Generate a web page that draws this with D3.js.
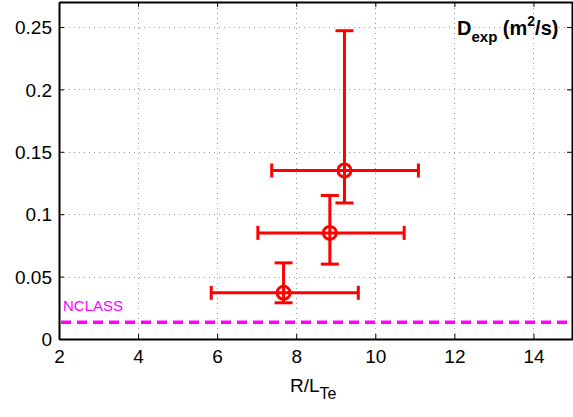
<!DOCTYPE html>
<html>
<head>
<meta charset="utf-8">
<script src="https://cdn.jsdelivr.net/npm/d3@7"></script>
<style>
  body { margin: 0; background: #fff; }
  text { font-family: "Liberation Sans", Arial, sans-serif; }
</style>
</head>
<body>
<div id="chart"></div>
<script>
const rlte = [7.68, 8.85, 9.22]
const rlteLo = [5.85, 7.03, 7.38]
const rlteHi = [9.57, 10.73, 11.09]
const dexp = [0.037, 0.085, 0.135]
const dexpLo = [0.029, 0.060, 0.109]
const dexpHi = [0.061, 0.115, 0.247]
const nclass = 0.0135
const xTicks = [2, 4, 6, 8, 10, 12, 14]
const yTicks = [0, 0.05, 0.1, 0.15, 0.2, 0.25]

const W = 573, H = 417
const MARGIN = { TOP: 2, BOTTOM: 78, LEFT: 59, RIGHT: 0 }

const svg = d3.select("#chart").append("svg")
  .attr("width", W).attr("height", H)

const x = d3.scaleLinear().domain([2, 15]).range([MARGIN.LEFT, W - MARGIN.RIGHT])
const y = d3.scaleLinear().domain([0, 0.27]).range([H - MARGIN.BOTTOM, MARGIN.TOP])

const data = rlte.map((v, i) => ({ x: v, xl: rlteLo[i], xh: rlteHi[i], y: dexp[i], yl: dexpLo[i], yh: dexpHi[i] }))

// grid
const grid = svg.append("g")
  .attr("stroke", "#999").attr("stroke-width", 1).attr("stroke-dasharray", "1,4")
grid.selectAll(".gx").data(xTicks.slice(1)).enter().append("line")
  .attr("x1", d => Math.round(x(d)) + 0.5).attr("x2", d => Math.round(x(d)) + 0.5)
  .attr("y1", y(0)).attr("y2", y(0.27))
grid.selectAll(".gy").data(yTicks.slice(1)).enter().append("line")
  .attr("y1", d => Math.round(y(d)) + 0.5).attr("y2", d => Math.round(y(d)) + 0.5)
  .attr("x1", x(2)).attr("x2", x(15))

// axes
const fmt = d => d === 0 ? "0" : String(d)
const xAxis = svg.append("g")
  .attr("transform", `translate(0, ${y(0)})`)
  .call(d3.axisBottom(x).tickValues(xTicks).tickSizeInner(-5).tickSizeOuter(0).tickPadding(11).tickFormat(fmt))
const yAxis = svg.append("g")
  .attr("transform", `translate(${x(2)}, 0)`)
  .call(d3.axisLeft(y).tickValues(yTicks).tickSizeInner(-5).tickSizeOuter(0).tickPadding(7).tickFormat(fmt))
svg.append("g")
  .attr("transform", `translate(0, ${y(0.27)})`)
  .call(d3.axisTop(x).tickValues(xTicks).tickSizeInner(-5).tickSizeOuter(0).tickFormat(""))
svg.append("g")
  .attr("transform", `translate(${x(15) - 1}, 0)`)
  .call(d3.axisRight(y).tickValues(yTicks).tickSizeInner(-5).tickSizeOuter(0).tickFormat(""))

svg.selectAll(".domain").attr("stroke", "#000").attr("stroke-width", 2)
svg.selectAll(".tick line").attr("stroke", "#000").attr("stroke-width", 1)
xAxis.selectAll("text").attr("font-size", 19).attr("fill", "#000")
yAxis.selectAll("text").attr("font-size", 19).attr("fill", "#000").attr("dy", "0.35em")

// NCLASS line
svg.append("line")
  .attr("x1", x(2) + 2).attr("x2", x(15))
  .attr("y1", y(nclass)).attr("y2", y(nclass))
  .attr("stroke", "#ff00ff").attr("stroke-width", 3.5).attr("stroke-dasharray", "10,6")
svg.append("text")
  .attr("x", x(2) + 4).attr("y", y(nclass) - 11)
  .attr("font-size", 15).attr("fill", "#ff00ff")
  .text("NCLASS")

// error bars
const red = "#ff0000"
const cap = 7
const eb = svg.append("g").attr("stroke", red).attr("stroke-width", 3).attr("fill", "none")
const pts = eb.selectAll("g").data(data).enter().append("g")
pts.append("line")
  .attr("x1", d => x(d.xl)).attr("x2", d => x(d.xh))
  .attr("y1", d => y(d.y)).attr("y2", d => y(d.y))
pts.append("line")
  .attr("x1", d => x(d.x)).attr("x2", d => x(d.x))
  .attr("y1", d => y(d.yl)).attr("y2", d => y(d.yh))
pts.append("line")
  .attr("x1", d => x(d.xl)).attr("x2", d => x(d.xl))
  .attr("y1", d => y(d.y) - cap).attr("y2", d => y(d.y) + cap)
pts.append("line")
  .attr("x1", d => x(d.xh)).attr("x2", d => x(d.xh))
  .attr("y1", d => y(d.y) - cap).attr("y2", d => y(d.y) + cap)
pts.append("line")
  .attr("x1", d => x(d.x) - cap - 2).attr("x2", d => x(d.x) + cap + 2)
  .attr("y1", d => y(d.yl)).attr("y2", d => y(d.yl))
pts.append("line")
  .attr("x1", d => x(d.x) - cap - 2).attr("x2", d => x(d.x) + cap + 2)
  .attr("y1", d => y(d.yh)).attr("y2", d => y(d.yh))
pts.append("circle")
  .attr("cx", d => x(d.x)).attr("cy", d => y(d.y)).attr("r", 6.5)

// labels
const lab = svg.append("text")
  .attr("x", 457).attr("y", 35)
  .attr("font-size", 20).attr("font-weight", "bold").attr("fill", "#000")
lab.append("tspan").text("D")
lab.append("tspan").attr("font-size", 15).attr("dy", 7).text("exp")
lab.append("tspan").attr("dy", -7).text(" (m")
lab.append("tspan").attr("font-size", 14).attr("dy", -9).text("2")
lab.append("tspan").attr("dy", 9).text("/s)")

const xl = svg.append("text")
  .attr("x", 290).attr("y", 392)
  .attr("font-size", 19).attr("fill", "#000")
xl.append("tspan").text("R/L")
xl.append("tspan").attr("font-size", 16).attr("dy", 7).text("Te")
</script>
</body>
</html>
